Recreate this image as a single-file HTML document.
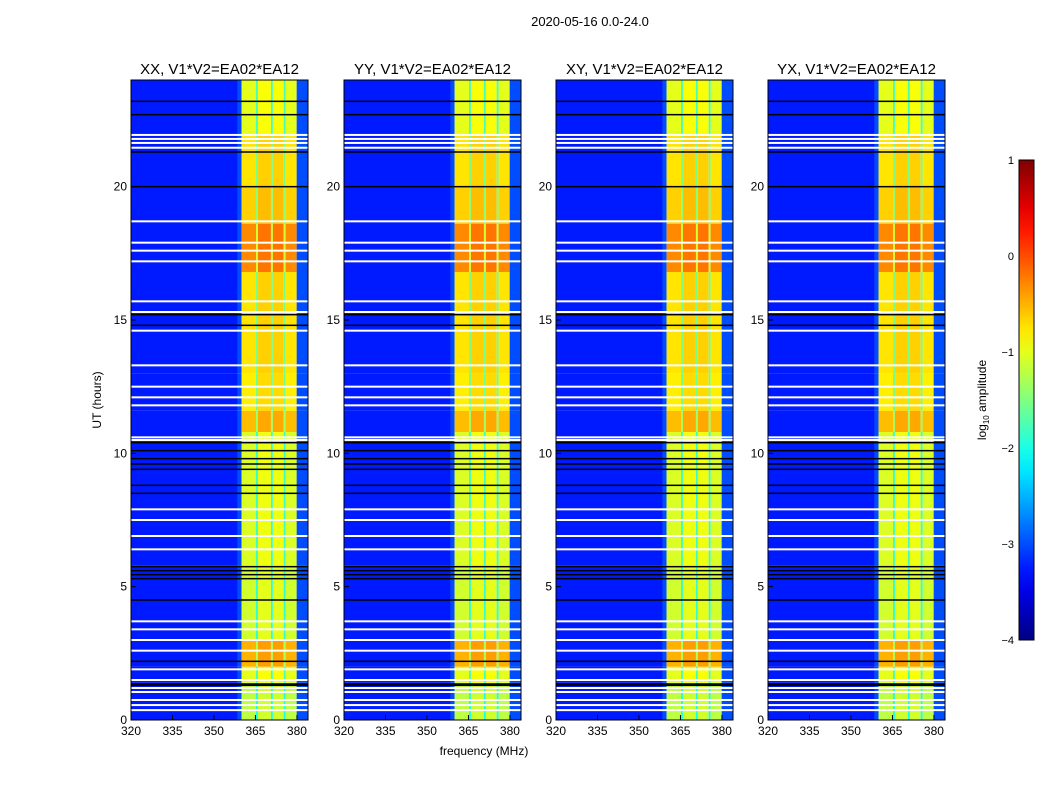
<!DOCTYPE html>
<html><head><meta charset="utf-8">
<style>
body{margin:0;background:#fff;font-family:"Liberation Sans",sans-serif;}
svg text{font-family:"Liberation Sans",sans-serif;}
</style></head>
<body>
<svg id="fig" width="1050" height="800" xmlns="http://www.w3.org/2000/svg">
<rect width="1050" height="800" fill="#fff"/>
<text x="590" y="26" font-size="13" text-anchor="middle">2020-05-16 0.0-24.0</text>
<text x="484" y="755" font-size="12" text-anchor="middle">frequency (MHz)</text>
<text x="101" y="400" font-size="12" text-anchor="middle" transform="rotate(-90 101 400)">UT (hours)</text>
<g id="panels"></g>
<g id="cbar"></g>
</svg>
<script>
// ---- data ----
const panelTitles = ["XX, V1*V2=EA02*EA12","YY, V1*V2=EA02*EA12","XY, V1*V2=EA02*EA12","YX, V1*V2=EA02*EA12"];
const xTicks = [320,335,350,365,380];
const yTicks = [0,5,10,15,20];
// frequency channel blocks: start, end (MHz), log10 amplitude
const chanStart = [320,358.5,360,365.2,365.9,370.6,371.3,375.2,375.9,379.9];
const chanEnd   = [358.5,360,365.2,365.9,370.6,371.3,375.2,375.9,379.9,384];
const chanLevel = [-3.25,-3.0,-1.1,-1.9,-1.0,-1.9,-1.0,-1.9,-1.1,-3.0];
// time segments (hours) with level offsets for the band
const segStart  = [0,1.4,2.0,3.0,5.8,10.8,11.6,13.0,16.8,18.6,20.0,21.9];
const segEnd    = [1.4,2.0,3.0,5.8,10.8,11.6,13.0,16.8,18.6,20.0,21.9,24];
const segOffset = [-0.1,0.1,0.6,0.0,0.05,0.55,0.3,0.35,0.8,0.45,0.35,0.1];
// flagged rows (hours)
const whiteRows = [21.94,21.79,21.64,21.46,18.7,17.9,17.6,17.2,15.7,15.3,14.6,13.3,12.5,12.1,11.8,10.6,10.5,7.9,7.5,6.9,6.4,3.7,3.4,3.0,2.6,1.9,1.5,1.2,1.05,0.75,0.56,0.37];
const blackRows = [23.2,22.7,21.3,20.0,15.2,14.8,10.4,10.1,9.8,9.6,9.4,8.8,8.5,5.75,5.6,5.45,5.3,4.5,2.2,1.35,1.3];
const cbTicks = [-4,-3,-2,-1,0,1];
// ---- helpers ----
function jet(v){ // v in [-4,1]
  let t=(v+4)/5; t=Math.max(0,Math.min(1,t));
  const r=Math.max(0,Math.min(1,1.5-Math.abs(4*t-3)));
  const g=Math.max(0,Math.min(1,1.5-Math.abs(4*t-2)));
  const b=Math.max(0,Math.min(1,1.5-Math.abs(4*t-1)));
  return `rgb(${Math.round(r*255)},${Math.round(g*255)},${Math.round(b*255)})`;
}
const NS="http://www.w3.org/2000/svg";
function el(tag,attrs,parent){const e=document.createElementNS(NS,tag);for(const k in attrs)e.setAttribute(k,attrs[k]);parent.appendChild(e);return e;}
const panelX=[131,344,556,768], pw=177, plotTop=80, plotBot=720;
const xScale=(px,f)=>px+(f-320)/64*pw;
const yScale=h=>plotBot-h/24*(plotBot-plotTop);
const root=document.getElementById('panels');
panelX.forEach((px,pi)=>{
  const g=el('g',{},root);
  
  
  const t=el('text',{x:px+pw/2,y:74,'font-size':15,'text-anchor':'middle'},g);
  t.textContent=panelTitles[pi];
  
  
  for(let s=0;s<segStart.length;s++){
    for(let c=0;c<chanStart.length;c++){
      const band=chanLevel[c]>-2.5;
      const v=chanLevel[c]+(band?segOffset[s]:0);
      const x0=xScale(px,chanStart[c]),x1=xScale(px,chanEnd[c]);
      const y0=yScale(segEnd[s]),y1=yScale(segStart[s]);
      const r=el('rect',{x:x0,y:y0,width:x1-x0,height:y1-y0,fill:jet(v)},g);
      
      
    }
  }
  whiteRows.forEach(h=>{
    const r=el('rect',{x:px,y:yScale(h)-1,width:pw,height:2,fill:'#fff'},g);
    
    
  });
  blackRows.forEach(h=>{
    const r=el('rect',{x:px,y:yScale(h)-0.75,width:pw,height:1.5,fill:'#000'},g);
    
    
  });
  const fr=el('rect',{x:px,y:plotTop,width:pw,height:plotBot-plotTop,fill:'none',stroke:'#000','stroke-width':1},g);
  
  
  xTicks.forEach(v=>{
    const x=xScale(px,v);
    el('line',{x1:x,x2:x,y1:plotBot,y2:plotBot-5,stroke:'#000'},g);
    const tt=el('text',{x:x,y:plotBot+15,'font-size':12,'text-anchor':'middle'},g);
    tt.textContent=v;
    
    
  });
  yTicks.forEach(v=>{
    const y=yScale(v);
    el('line',{x1:px,x2:px+5,y1:y,y2:y,stroke:'#000'},g);
    const tt=el('text',{x:px-4,y:y+4,'font-size':12,'text-anchor':'end'},g);
    tt.textContent=v;
    
    
  });
});
// colorbar
const cb=document.getElementById('cbar');
const cbx=1019,cbw=15,cbt=160,cbb=640;
const defs=el('defs',{},cb);
const lg=el('linearGradient',{id:'jetg',x1:0,y1:1,x2:0,y2:0},defs);
for(let i=0;i<=20;i++){el('stop',{offset:i/20,'stop-color':jet(-4+5*i/20)},lg);}
const cr=el('rect',{x:cbx,y:cbt,width:cbw,height:cbb-cbt,fill:'url(#jetg)',stroke:'#000'},cb);


cbTicks.forEach(v=>{
  const y=cbb-(v+4)/5*(cbb-cbt);
  const tt=el('text',{x:cbx-5,y:y+4,'font-size':11,'text-anchor':'end'},cb);
  tt.textContent=v<0?'\u2212'+(-v):String(v);
  
  
});
const cl=el('text',{x:986,y:400,'font-size':12,'text-anchor':'middle',transform:'rotate(-90 986 400)'},cb);
cl.innerHTML='log<tspan font-size="8" dy="3">10</tspan><tspan dy="-3"> amplitude</tspan>';


</script>
</body></html>
